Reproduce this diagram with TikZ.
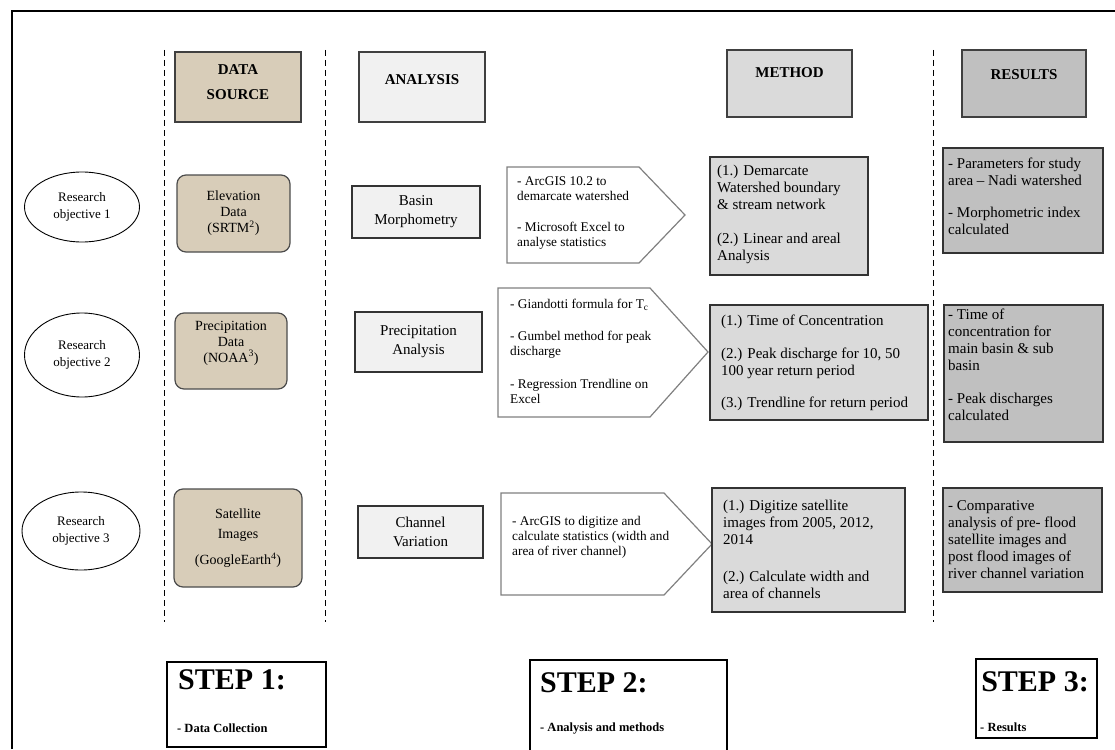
\documentclass[tikz,border=0pt]{standalone}
\usepackage{fontspec}
\setmainfont{Liberation Serif}
\usetikzlibrary{shapes.geometric}

\definecolor{beige}{HTML}{D8CDB9}
\definecolor{lightbox}{HTML}{F1F1F1}
\definecolor{methgray}{HTML}{DADADA}
\definecolor{resgray}{HTML}{C0C0C0}

\tikzset{
  sepline/.style={dash pattern=on 6pt off 4pt, line width=1pt},
  hdrbox/.style={draw=black!75, line width=1.2pt, outer sep=0pt},
  hdrtxt/.style={font=\fontsize{15}{25}\selectfont\bfseries, align=center, inner sep=0pt},
  objnode/.style={ellipse, draw, line width=0.9pt, font=\fontsize{13}{17}\selectfont, align=center, inner sep=0pt},
  srcbox/.style={draw=black!70, line width=1.2pt, rounded corners=9pt, fill=beige, font=\fontsize{14}{16}\selectfont, align=center, inner sep=0pt},
  srctxt/.style={font=\fontsize{14}{16}\selectfont, align=center, inner sep=0pt},
  anbox/.style={draw=black!80, line width=1.2pt, fill=lightbox, font=\fontsize{15}{19}\selectfont, align=center, inner sep=0pt},
  toolshape/.style={draw=black!50, line width=1.2pt, fill=white},
  tooltxt/.style={font=\fontsize{13.3}{15}\selectfont, align=left, anchor=north west, inner sep=0pt},
  methbox/.style={draw=black!80, line width=1.5pt, fill=methgray, inner sep=0pt},
  methtxt/.style={font=\fontsize{15}{17}\selectfont, align=left, anchor=north west, inner sep=0pt},
  resbox/.style={draw=black!80, line width=1.5pt, fill=resgray, inner sep=0pt},
  restxt/.style={font=\fontsize{15}{17}\selectfont, align=left, anchor=north west, inner sep=0pt},
  stepbox/.style={draw, line width=1.2pt, fill=white, inner sep=0pt},
  steptitle/.style={font=\fontsize{30}{32}\selectfont\bfseries, inner sep=0pt},
  stepnote/.style={font=\fontsize{12.5}{14}\selectfont\bfseries, anchor=base west, inner sep=0pt},
}

\begin{document}
\begin{tikzpicture}[x=1pt, y=-1pt]
    \useasboundingbox (0,0) rectangle (1115,749);

    % Frame
    \draw[line width=2pt] (12,749) -- (12,11) -- (1115,11);

    % Column separators
    \draw[sepline] (164,50) -- (164,622);
    \draw[sepline] (325,50) -- (325,622);
    \draw[sepline] (933,50) -- (933,622);

    % Headers
    \node[hdrbox, fill=beige, minimum width=126pt, minimum height=70pt] (dsrc) at (238,87) {};
    \node[hdrtxt] (dsrc-t) at (238,82) {DATA\\SOURCE};
    \node[hdrbox, fill=lightbox, minimum width=126pt, minimum height=70pt] (ana) at (422,87) {};
    \node[hdrtxt] (ana-t) at (422,80) {ANALYSIS};
    \node[hdrbox, fill=methgray, minimum width=125pt, minimum height=67pt] (meth) at (789.5,83.5) {};
    \node[hdrtxt] (meth-t) at (789.5,73) {METHOD};
    \node[hdrbox, fill=resgray, minimum width=124pt, minimum height=67pt] (res) at (1024,83.5) {};
    \node[hdrtxt] (res-t) at (1024,75) {RESULTS};

    % Research objectives
    \node[objnode, minimum width=115pt, minimum height=70pt] (obj1) at (82,207) {Research\\objective 1};
    \node[objnode, minimum width=115pt, minimum height=84pt] (obj2) at (82,355) {Research\\objective 2};
    \node[objnode, minimum width=118pt, minimum height=78pt] (obj3) at (81,531) {Research\\objective 3};

    % Data sources
    \node[srcbox, minimum width=113pt, minimum height=77pt] (elev) at (233.5,213.5) {Elevation\\Data\\(SRTM\textsuperscript{2})};
    \node[srcbox, minimum width=112pt, minimum height=76pt] (prec) at (231,351) {};
    \node[srctxt] (prec-t) at (231,343) {Precipitation\\Data\\(NOAA\textsuperscript{3})};
    \node[srcbox, minimum width=128pt, minimum height=98pt] (sat) at (238,538) {Satellite\\[4pt]Images\\[10pt](GoogleEarth\textsuperscript{4})};

    % Analysis
    \node[anbox, minimum width=128pt, minimum height=52pt] (basin) at (416,212) {Basin\\Morphometry};
    \node[anbox, minimum width=127pt, minimum height=60pt] (pana) at (418.5,342) {Precipitation\\Analysis};
    \node[anbox, minimum width=125pt, minimum height=52pt] (chan) at (420.5,532) {Channel\\Variation};

    % Tools
    \draw[toolshape] (507,167) -- (639,167) -- (685,215) -- (639,263) -- (507,263) -- cycle;
    \node[tooltxt] (tool1) at (517,176) {- ArcGIS 10.2 to\\demarcate watershed\\[16pt]- Microsoft Excel to\\analyse statistics};
    \draw[toolshape] (498,288) -- (650,288) -- (708,352) -- (650,417) -- (498,417) -- cycle;
    \node[tooltxt] (tool2) at (510,299) {- Giandotti formula for T\textsubscript{c}\\[17pt]- Gumbel method for peak\\discharge\\[18pt]- Regression Trendline on\\Excel};
    \draw[toolshape] (501,493) -- (664,493) -- (712,544) -- (664,595) -- (501,595) -- cycle;
    \node[tooltxt] (tool3) at (512,516) {- ArcGIS to digitize and\\calculate statistics (width and\\area of river channel)};

    % Methods
    \node[methbox, minimum width=158pt, minimum height=118pt] (meth1) at (789,216) {};
    \node[methtxt] (meth1-t) at (717,164.5) {(1.) Demarcate\\Watershed boundary\\\& stream network\\[17pt](2.) Linear and areal\\Analysis};
    \node[methbox, minimum width=218pt, minimum height=115pt] (meth2) at (819,362.5) {};
    \node[methtxt] (meth2-t) at (721,315) {(1.) Time of Concentration\\[16pt](2.) Peak discharge for 10, 50\\100 year return period\\[15pt](3.) Trendline for return period};
    \node[methbox, minimum width=193pt, minimum height=124pt] (meth3) at (808.5,550) {};
    \node[methtxt] (meth3-t) at (723,500) {(1.) Digitize satellite\\images from 2005, 2012,\\2014\\[20pt](2.) Calculate width and\\area of channels};

    % Results
    \node[resbox, minimum width=160pt, minimum height=105pt] (res1) at (1023,200.5) {};
    \node[restxt] (res1-t) at (948,157.5) {- Parameters for study\\area -- Nadi watershed\\[15pt]- Morphometric index\\calculated};
    \node[resbox, minimum width=159pt, minimum height=137pt] (res2) at (1023.5,373.5) {};
    \node[restxt] (res2-t) at (948,308.5) {- Time of\\concentration for\\main basin \& sub\\basin\\[16pt]- Peak discharges\\calculated};
    \node[resbox, minimum width=159pt, minimum height=104pt] (res3) at (1022.5,540) {};
    \node[restxt] (res3-t) at (948,500) {- Comparative\\analysis of pre- flood\\satellite images and\\post flood images of\\river channel variation};

    % Steps
    \node[stepbox, minimum width=159pt, minimum height=85pt] (step1) at (246.5,704.5) {};
    \node[steptitle] (step1-t) at (232,680) {STEP 1:};
    \node[stepnote] (step1-n) at (177,732) {- Data Collection};
    \node[stepbox, minimum width=197pt, minimum height=110pt] (step2) at (628.5,715) {};
    \node[steptitle, anchor=base west] (step2-t) at (540,692) {STEP 2:};
    \node[stepnote] (step2-n) at (540,731.5) {- Analysis and methods};
    \node[stepbox, minimum width=121pt, minimum height=79pt] (step3) at (1036.5,698.5) {};
    \node[steptitle] (step3-t) at (1035,682) {STEP 3:};
    \node[stepnote] (step3-n) at (980,731.5) {- Results};
\end{tikzpicture}
\end{document}
